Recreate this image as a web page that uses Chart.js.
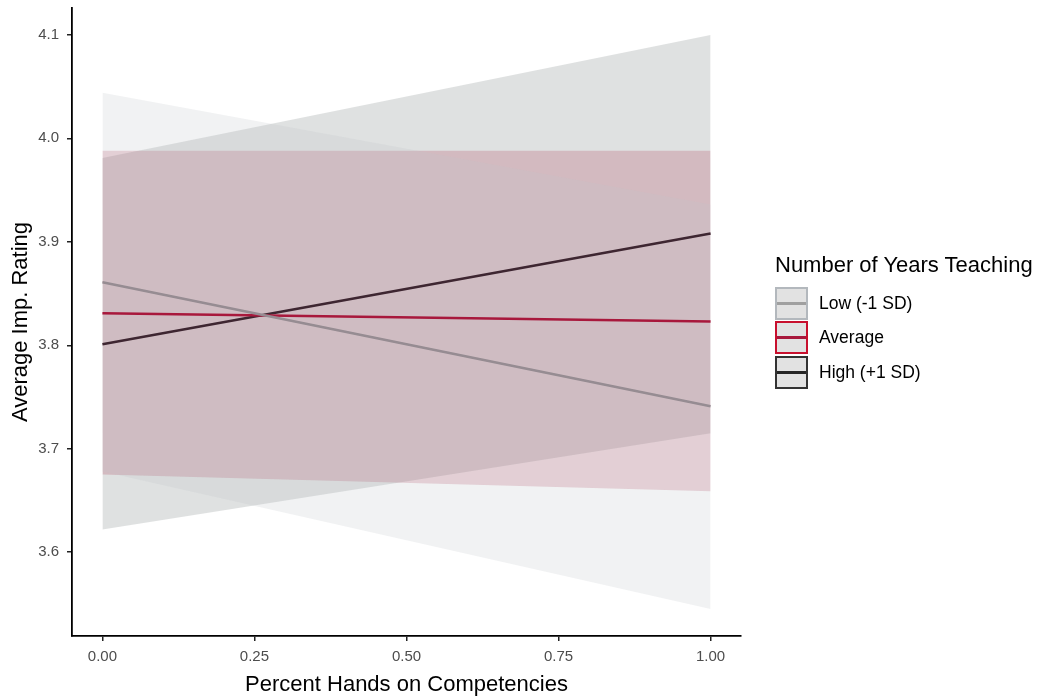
<!DOCTYPE html>
<html>
<head>
  <title>Average Imp. Rating</title>
  <script src="https://cdn.jsdelivr.net/npm/chart.js@4.4.1/dist/chart.umd.min.js"></script>
  <style>
    body { margin: 0; background: #fff; font-family: "Liberation Sans", Arial, sans-serif; }
    #wrap { position: relative; width: 1040px; height: 698px; }
    #legend { position: absolute; left: 775px; top: 252px; color: #000; }
    #legend .title { font-size: 22px; margin-bottom: 8px; }
    #legend .row { display: flex; align-items: center; height: 34.5px; }
    #legend .key { width: 29px; height: 29px; border: 2px solid; background: #e2e2e2; position: relative; box-sizing: content-box; }
    #legend .key span { position: absolute; left: 0; right: 0; top: 13px; height: 3px; }
    #legend .lab { font-size: 17.5px; margin-left: 11px; }
  </style>
</head>
<body>
<div id="wrap">
  <canvas id="myChart" width="1040" height="698"></canvas>
  <div id="legend"></div>
</div>

<script>
  // x positions and tick values
  const xVals = [0, 1];
  const xTicks = [0, 0.25, 0.5, 0.75, 1];
  const yTicks = [3.6, 3.7, 3.8, 3.9, 4.0, 4.1];

  // group names
  const groups = ['Low (-1 SD)', 'Average', 'High (+1 SD)'];

  // fitted lines and confidence bands
  const lowMean  = [3.861, 3.741];
  const lowUpper = [4.044, 3.936];
  const lowLower = [3.678, 3.545];

  const avgMean  = [3.831, 3.823];
  const avgUpper = [3.988, 3.988];
  const avgLower = [3.675, 3.659];

  const highMean  = [3.801, 3.908];
  const highUpper = [3.981, 4.100];
  const highLower = [3.622, 3.715];

  const lineColors = ['#968c92', '#a8183c', '#3e2631'];
  const bandColors = ['rgba(190,196,202,0.22)', 'rgba(160,30,60,0.2)', 'rgba(150,155,155,0.3)'];
  const keyLine = ['#a0a0a0', '#a8183c', '#262626'];
  const keyBorder = ['#b3b8bd', '#c8102e', '#333333'];

  const pts = arr => arr.map((y, i) => ({ x: xVals[i], y: y }));

  function band(upper, lower, color) {
    return [
      { data: pts(upper), fill: '+1', backgroundColor: color, borderColor: 'transparent', borderWidth: 0, pointRadius: 0, order: 2 },
      { data: pts(lower), fill: false, borderColor: 'transparent', borderWidth: 0, pointRadius: 0, order: 2 }
    ];
  }
  function line(mean, color) {
    return { data: pts(mean), fill: false, borderColor: color, borderWidth: 2.5, pointRadius: 0, order: 0 };
  }

  const font = '"Liberation Sans", Arial, sans-serif';

  new Chart(document.getElementById('myChart'), {
    type: 'line',
    data: {
      datasets: [
        ...band(lowUpper, lowLower, bandColors[0]),
        ...band(avgUpper, avgLower, bandColors[1]),
        ...band(highUpper, highLower, bandColors[2]),
        line(lowMean, lineColors[0]),
        line(avgMean, lineColors[1]),
        line(highMean, lineColors[2])
      ]
    },
    options: {
      responsive: false,
      animation: false,
      layout: { padding: { top: 8, right: 299, left: 0, bottom: 0 } },
      plugins: { legend: { display: false }, tooltip: { enabled: false } },
      scales: {
        x: {
          type: 'linear',
          min: -0.05, max: 1.05,
          afterBuildTicks: s => { s.ticks = xTicks.map(v => ({ value: v })); },
          afterFit: s => { s.height = 62; s.paddingLeft = 0; s.paddingRight = 0; },
          ticks: { callback: v => v.toFixed(2), color: '#4d4d4d', font: { family: font, size: 15 }, padding: 7, maxRotation: 0 },
          grid: { drawOnChartArea: false, drawTicks: true, tickLength: 5, color: '#222', lineWidth: 1.5 },
          border: { display: true, color: '#000', width: 1.8 },
          title: { display: true, text: 'Percent Hands on Competencies', color: '#000', font: { family: font, size: 22 }, padding: { top: 0, bottom: 0 } }
        },
        y: {
          type: 'linear',
          min: 3.519, max: 4.126,
          afterBuildTicks: s => { s.ticks = yTicks.map(v => ({ value: v })); },
          afterFit: s => { s.width = 72; s.paddingTop = 0; s.paddingBottom = 0; },
          ticks: { callback: v => v.toFixed(1), color: '#4d4d4d', font: { family: font, size: 15 }, padding: 8 },
          grid: { drawOnChartArea: false, drawTicks: true, tickLength: 5, color: '#222', lineWidth: 1.5 },
          border: { display: true, color: '#000', width: 1.8 },
          title: { display: true, text: 'Average Imp. Rating', color: '#000', font: { family: font, size: 22 }, padding: { top: 8, bottom: 0 } }
        }
      }
    }
  });

  // legend
  const lg = document.getElementById('legend');
  let html = '<div class="title">Number of Years Teaching</div>';
  groups.forEach((g, i) => {
    html += '<div class="row"><div class="key" style="border-color:' + keyBorder[i] + '"><span style="background:' + keyLine[i] + '"></span></div><div class="lab">' + g + '</div></div>';
  });
  lg.innerHTML = html;
</script>
</body>
</html>
